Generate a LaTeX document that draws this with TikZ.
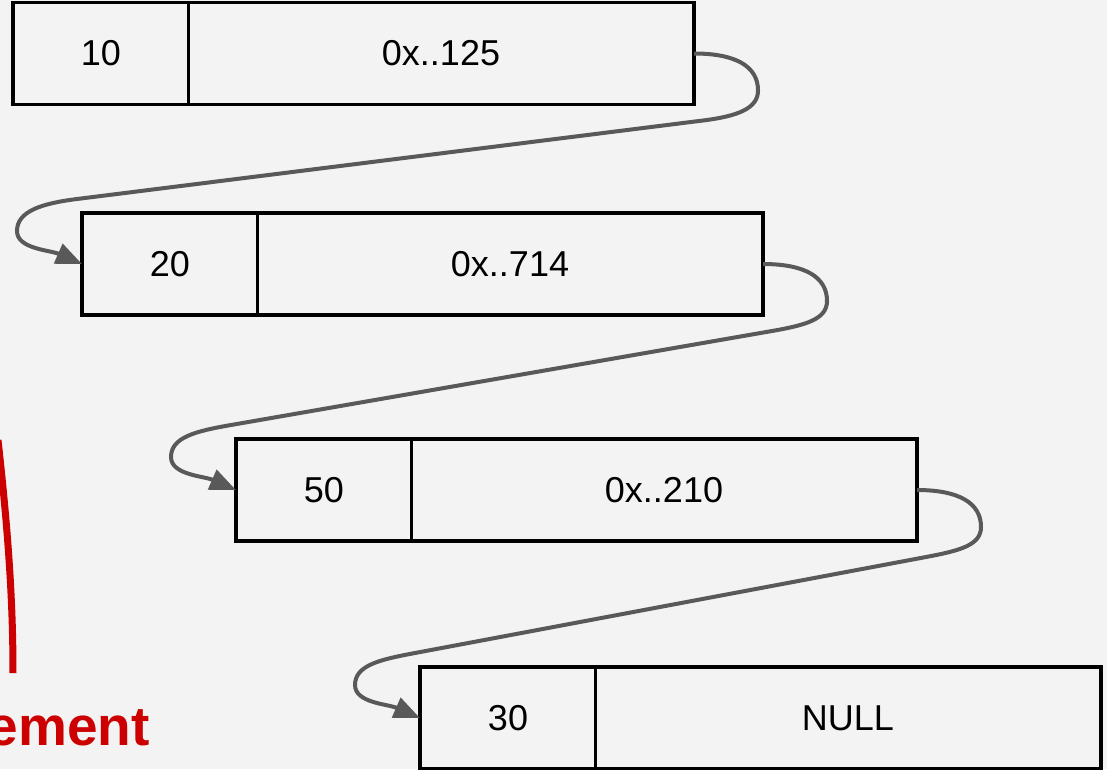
\documentclass[tikz,border=0pt]{standalone}
\usepackage{fontspec}
\setmainfont{Liberation Sans}
\usetikzlibrary{arrows.meta,calc}
\definecolor{bg}{HTML}{F3F3F3}
\definecolor{conncol}{HTML}{595959}
\definecolor{redtxt}{HTML}{CC0000}
\newcommand\listlink[2]{%
  \path (#1.east) ++(64,37) coordinate (#1R)
        (#1R) ++(-55,30) coordinate (#1S)
        (#2.west) ++(-65,-33) coordinate (#1L)
        (#1L) ++(60,-32) coordinate (#1T);
  \draw[link] (#1.east) .. controls ($(#1.east)+(42,0)$) and ($(#1R)+(0,-24)$) .. (#1R)
    .. controls ($(#1R)+(0,18)$) and ($(#1S)!-35pt!(#1T)$) .. (#1S)
    -- (#1T)
    .. controls ($(#1T)!-35pt!(#1S)$) and ($(#1L)+(0,-20)$) .. (#1L)
    .. controls ($(#1L)+(0,18)$) and ($(#2.west)+(-32,-14)$) .. (#2.west);
}
\newcommand\listbox[4]{%
  \node[box] (#1) at (#2) {};
  \draw[line width=3.5pt] ($(#1.north west)+(175.5,0)$) coordinate (#1dt) -- ($(#1.south west)+(175.5,0)$) coordinate (#1db);
  \node[cell] (#1v) at ($(#1.west)+(88,0)$) {#3};
  \node[cell] (#1p) at ($(#1.west)+(428,0)$) {#4};
}
\begin{document}
\begin{tikzpicture}[x=1pt,y=-1pt,
  box/.style={draw=black,line width=3.5pt,fill=bg,minimum width=681pt,minimum height=102pt,inner sep=0pt,outer sep=0pt,anchor=north west},
  cell/.style={font=\fontsize{36}{40}\selectfont,inner sep=0pt},
  link/.style={draw=conncol,line width=4pt,-{Triangle[length=26pt,width=21pt]}}]
  \fill[bg] (0,0) rectangle (1107,769);
  \useasboundingbox (0,0) rectangle (1107,769);
  \clip (0,0) rectangle (1107,769);
  \listbox{b1}{13,2.5}{10}{0x..125}
  \listbox{b2}{82,213}{20}{0x..714}
  \listbox{b3}{236,439}{50}{0x..210}
  \listbox{b4}{420,667}{30}{NULL}
  \listlink{b1}{b2}
  \listlink{b2}{b3}
  \listlink{b3}{b4}
  \draw[redtxt,line width=7pt] (-2,440) .. controls (8,530) and (13,600) .. (13,673);
  \node[anchor=base east,inner sep=0pt,text=redtxt,font=\fontsize{55}{60}\selectfont\bfseries] (lbl) at (150,745) {ement};
\end{tikzpicture}
\end{document}
